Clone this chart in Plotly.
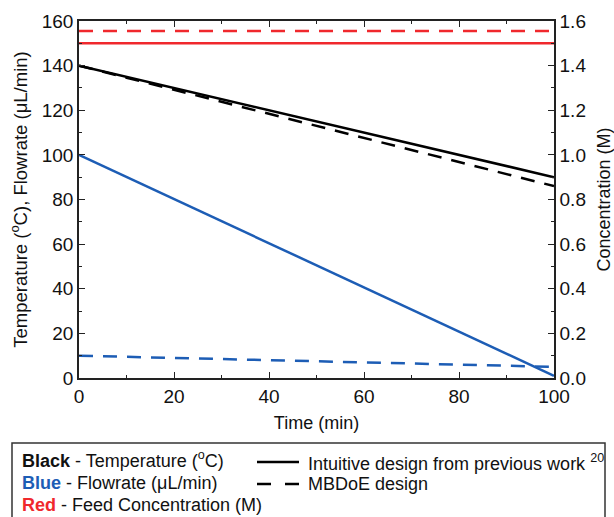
import plotly.graph_objects as go

# ---- data ----
time_min = [0, 100]
temp_intuitive = [140, 90]
temp_mbdoe = [140, 86]
flow_intuitive = [100, 1]
flow_mbdoe = [10, 5]
conc_intuitive = [1.5, 1.5]
conc_mbdoe = [1.555, 1.555]

x_ticks = [0, 20, 40, 60, 80, 100]
y_ticks = [0, 20, 40, 60, 80, 100, 120, 140, 160]
y2_ticks = [0.0, 0.2, 0.4, 0.6, 0.8, 1.0, 1.2, 1.4, 1.6]

BLACK = "#000000"
BLUE = "#1d5db5"
RED = "#f0282d"
FONT = "Arial, Liberation Sans, sans-serif"
W, H = 614, 517
L, R, T, B = 79, 554, 21, 378

def px(x):
    return (x - L) / (R - L)

def py(y):
    return (B - y) / (B - T)

fig = go.Figure()
DASH = "14px,10px"
fig.add_trace(go.Scatter(x=time_min, y=temp_intuitive, mode="lines",
                         line=dict(color=BLACK, width=2.5), showlegend=False))
fig.add_trace(go.Scatter(x=time_min, y=temp_mbdoe, mode="lines",
                         line=dict(color=BLACK, width=2.5, dash=DASH), showlegend=False))
fig.add_trace(go.Scatter(x=time_min, y=flow_intuitive, mode="lines",
                         line=dict(color=BLUE, width=2.5), showlegend=False))
fig.add_trace(go.Scatter(x=time_min, y=flow_mbdoe, mode="lines",
                         line=dict(color=BLUE, width=2.5, dash=DASH), showlegend=False))
fig.add_trace(go.Scatter(x=time_min, y=conc_intuitive, mode="lines", yaxis="y2",
                         line=dict(color=RED, width=2.5), showlegend=False))
fig.add_trace(go.Scatter(x=time_min, y=conc_mbdoe, mode="lines", yaxis="y2",
                         line=dict(color=RED, width=2.5, dash=DASH), showlegend=False))

axis_common = dict(showline=True, linecolor="#222222", linewidth=1.5,
                   ticks="inside", ticklen=6, tickwidth=1.2, tickcolor="#222222",
                   showgrid=False, zeroline=False, automargin=False,
                   tickfont=dict(family=FONT, size=19, color="#111111"))

fig.update_layout(
    width=W, height=H,
    margin=dict(l=L, r=W - R, t=T, b=H - B),
    paper_bgcolor="white", plot_bgcolor="white",
    font=dict(family=FONT, color="#111111"),
    xaxis=dict(range=[0, 100], tickvals=x_ticks, mirror="ticks",
               minor=dict(ticks="inside", ticklen=3, dtick=10, tickcolor="#222222"),
               title=dict(text="Time (min)", font=dict(family=FONT, size=18), standoff=11),
               **axis_common),
    yaxis=dict(range=[0, 160], tickvals=y_ticks, mirror=True,
               minor=dict(ticks="inside", ticklen=3, dtick=10, tickcolor="#222222"),
               title=dict(text="Temperature (<sup>o</sup>C), Flowrate (\u03bcL/min)",
                          font=dict(family=FONT, size=18.5), standoff=9),
               **axis_common),
    yaxis2=dict(range=[0, 1.6], tickvals=y2_ticks, tickformat=".1f",
                overlaying="y", side="right",
                minor=dict(ticks="inside", ticklen=3, dtick=0.1, tickcolor="#222222"),
                title=dict(text="Concentration (M)", font=dict(family=FONT, size=18), standoff=14),
                **axis_common),
)

# custom legend box
fig.add_shape(type="rect", xref="paper", yref="paper",
              x0=px(12), x1=px(605), y0=py(443), y1=py(540),
              line=dict(color="#333333", width=1.5), fillcolor="rgba(0,0,0,0)")
fig.add_shape(type="line", xref="paper", yref="paper",
              x0=px(257), x1=px(299), y0=py(462), y1=py(462),
              line=dict(color=BLACK, width=2.5))
fig.add_shape(type="line", xref="paper", yref="paper",
              x0=px(257), x1=px(271), y0=py(484), y1=py(484),
              line=dict(color=BLACK, width=2.5))
fig.add_shape(type="line", xref="paper", yref="paper",
              x0=px(285), x1=px(299), y0=py(484), y1=py(484),
              line=dict(color=BLACK, width=2.5))

legend_items = [
    (20, 459, "<b>Black</b> - Temperature (<sup>o</sup>C)"),
    (20, 483, f"<b><span style='color:{BLUE}'>Blue</span></b> - Flowrate (\u03bcL/min)"),
    (20, 505, f"<b><span style='color:{RED}'>Red</span></b> - Feed Concentration (M)"),
    (306, 462, "Intuitive design from previous work <sup>20</sup>"),
    (306, 484, "MBDoE design"),
]
for x, y, txt in legend_items:
    fig.add_annotation(xref="paper", yref="paper", x=px(x), y=py(y),
                       text=txt, showarrow=False, xanchor="left", yanchor="middle",
                       font=dict(family=FONT, size=18, color="#111111"))

fig.write_html("out.html",
               config={"displayModeBar": False},
               post_script="document.body.style.margin='0px';"
                           "document.body.style.overflow='hidden';")
